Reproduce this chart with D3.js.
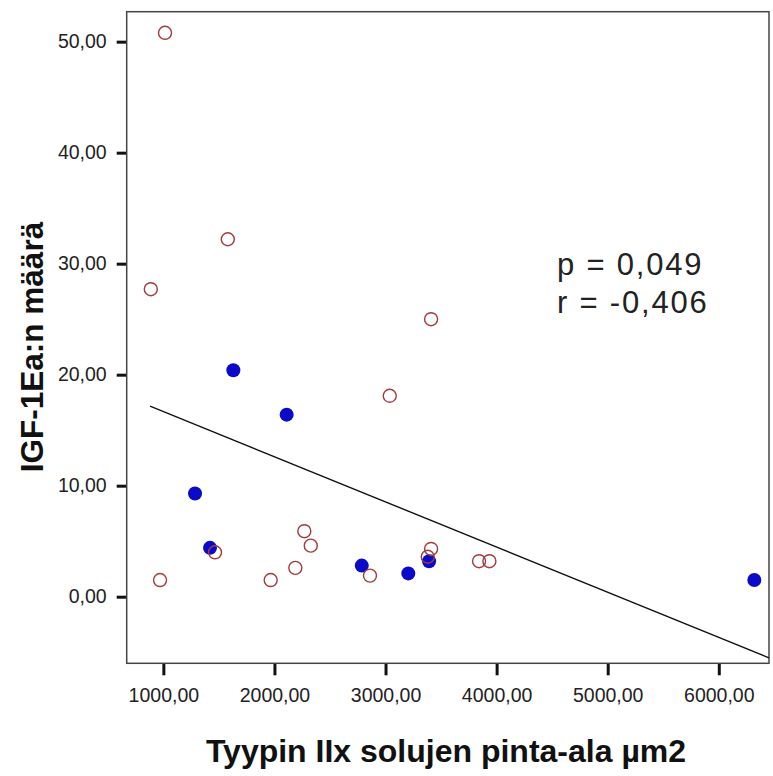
<!doctype html>
<html>
<head>
<meta charset="utf-8">
<title>IGF-1Ea scatter</title>
<script src="https://cdn.jsdelivr.net/npm/d3@7"></script>
<style>
  body { margin: 0; background: #fff; }
  svg { display: block; font-family: "Liberation Sans", Arial, sans-serif; }
</style>
</head>
<body>
<svg width="773" height="776"></svg>
<script>
// hollow markers (open circles)
var openX = [1015, 1580, 887, 3410, 3038, 970, 1465, 1966, 2188, 2269, 2327, 2860, 3410, 3380, 3842, 3935];
var openY = [50.8, 32.2, 27.7, 25.0, 18.1, 1.5, 4.0, 1.5, 2.6, 5.9, 4.6, 1.9, 4.3, 3.6, 3.2, 3.2];
// filled markers
var fillX = [1630, 2110, 1285, 1420, 2786, 3205, 3392, 6320];
var fillY = [20.4, 16.4, 9.3, 4.4, 2.8, 2.1, 3.2, 1.5];
// fit line
var fitIntercept = 20.75, fitSlope = -0.00407;
var fitFrom = 880, fitTo = 6452;

var xTicks = [1000, 2000, 3000, 4000, 5000, 6000];
var yTicks = [0, 10, 20, 30, 40, 50];
var statLines = ["p = 0,049", "r = -0,406"];
var xTitle = "Tyypin IIx solujen pinta-ala µm2";
var yTitle = "IGF-1Ea:n määrä";

var svg = d3.select("svg");
var x = d3.scaleLinear().domain([670, 6452]).range([126.7, 769]);
var y = d3.scaleLinear().domain([-6, 52.7]).range([663.3, 11.7]);

function fmt(v) { return d3.format(".2f")(v).replace(".", ","); }

// x axis
var gx = svg.append("g").attr("transform", "translate(0," + y(-6) + ")")
  .call(d3.axisBottom(x).tickValues(xTicks).tickFormat(fmt).tickSize(12).tickPadding(13));
gx.select(".domain").remove();
gx.selectAll(".tick line").attr("stroke", "#111").attr("stroke-width", 3);
gx.selectAll(".tick text").attr("font-size", 19.5).attr("fill", "#222")
  .attr("font-family", "Liberation Sans, Arial, sans-serif");

// y axis
var gy = svg.append("g").attr("transform", "translate(" + x(670) + ",0)")
  .call(d3.axisLeft(y).tickValues(yTicks).tickFormat(fmt).tickSize(10).tickPadding(10));
gy.select(".domain").remove();
gy.selectAll(".tick line").attr("stroke", "#111").attr("stroke-width", 3);
gy.selectAll(".tick text").attr("font-size", 19.5).attr("fill", "#222")
  .attr("font-family", "Liberation Sans, Arial, sans-serif");

// frame
svg.append("rect")
  .attr("x", x(670)).attr("y", y(52.7))
  .attr("width", x(6452) - x(670)).attr("height", y(-6) - y(52.7))
  .attr("fill", "none").attr("stroke", "#444").attr("stroke-width", 1.5);

// fit line
svg.append("line")
  .attr("x1", x(fitFrom)).attr("y1", y(fitIntercept + fitSlope * fitFrom))
  .attr("x2", x(fitTo)).attr("y2", y(fitIntercept + fitSlope * fitTo))
  .attr("stroke", "#111").attr("stroke-width", 1.4);

// filled points
svg.append("g").selectAll("circle")
  .data(d3.range(fillX.length))
  .enter().append("circle")
  .attr("cx", function (i) { return x(fillX[i]); })
  .attr("cy", function (i) { return y(fillY[i]); })
  .attr("r", 7)
  .attr("fill", "#0a0ac8");

// open points
svg.append("g").selectAll("circle")
  .data(d3.range(openX.length))
  .enter().append("circle")
  .attr("cx", function (i) { return x(openX[i]); })
  .attr("cy", function (i) { return y(openY[i]); })
  .attr("r", 6.5)
  .attr("fill", "none")
  .attr("stroke", "#a23c3c")
  .attr("stroke-width", 1.4);

// stats
svg.append("g").selectAll("text")
  .data(statLines)
  .enter().append("text")
  .attr("x", 557)
  .attr("y", function (d, i) { return 275 + i * 38; })
  .attr("font-size", 31)
  .attr("letter-spacing", 1.8)
  .attr("fill", "#222")
  .text(function (d) { return d; });

// axis titles
svg.append("text")
  .attr("x", 446).attr("y", 762)
  .attr("text-anchor", "middle")
  .attr("font-size", 32).attr("font-weight", "bold").attr("fill", "#111")
  .text(xTitle);

svg.append("text")
  .attr("transform", "translate(43,347) rotate(-90)")
  .attr("text-anchor", "middle")
  .attr("font-size", 31.5).attr("font-weight", "bold").attr("fill", "#111")
  .text(yTitle);
</script>
</body>
</html>
